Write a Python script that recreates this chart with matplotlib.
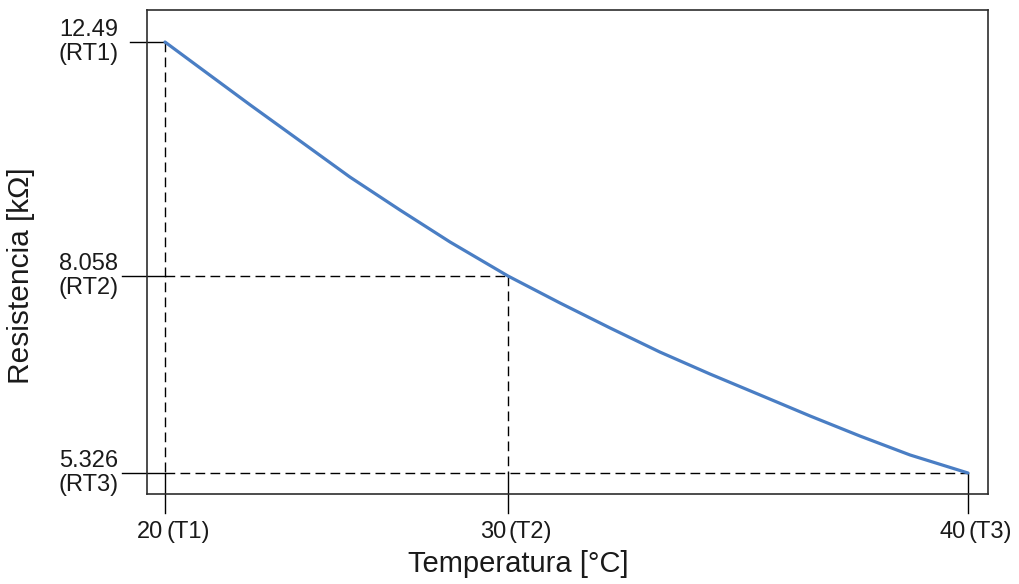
import numpy as np
import matplotlib
matplotlib.use("Agg")
import matplotlib.pyplot as plt

# curve (temperature in degC, resistance in kOhm)
temp = [20.0, 21.02, 22.48, 23.94, 25.39, 26.85, 28.31, 30.0, 31.13, 32.22,
        33.30, 34.39, 35.48, 36.57, 37.65, 38.74, 40.0]
res = [12.49, 12.00, 11.30, 10.615, 9.933, 9.308, 8.702, 8.058, 7.684, 7.337,
       7.004, 6.699, 6.408, 6.116, 5.839, 5.576, 5.326]

t_ticks = [20, 30, 40]
t_names = ["(T1)", "(T2)", "(T3)"]
r_ticks = [5.326, 8.058, 12.49]
r_labels = ["5.326\n(RT3)", "8.058\n(RT2)", "12.49\n(RT1)"]

# the axes of the original are not linear: place the marked values where they sit
t_pos = [0, 343, 803]
r_pos = [0, 197, 431]


def piecewise(keys, pos):
    keys = np.asarray(keys, float)
    pos = np.asarray(pos, float)
    s_lo = (pos[1] - pos[0]) / (keys[1] - keys[0])
    s_hi = (pos[-1] - pos[-2]) / (keys[-1] - keys[-2])

    def fwd(v):
        v = np.asarray(v, float)
        out = np.interp(v, keys, pos)
        out = np.where(v < keys[0], pos[0] + (v - keys[0]) * s_lo, out)
        out = np.where(v > keys[-1], pos[-1] + (v - keys[-1]) * s_hi, out)
        return out

    def inv(p):
        p = np.asarray(p, float)
        out = np.interp(p, pos, keys)
        out = np.where(p < pos[0], keys[0] + (p - pos[0]) / s_lo, out)
        out = np.where(p > pos[-1], keys[-1] + (p - pos[-1]) / s_hi, out)
        return out

    return fwd, inv


fx, ix = piecewise(t_ticks, t_pos)
fy, iy = piecewise(r_ticks, r_pos)

plt.rcParams["font.family"] = ["Liberation Sans", "DejaVu Sans"]
txt = "#1a1a1a"

fig = plt.figure(figsize=(10.2, 5.84), dpi=100)
ax = fig.add_axes([147 / 1020, 90 / 584, 841 / 1020, 484 / 584])
ax.set_xscale("function", functions=(fx, ix))
ax.set_yscale("function", functions=(fy, iy))
ax.set_xlim(float(ix(-18)), float(ix(823)))
ax.set_ylim(float(iy(-21)), float(iy(463)))
ax.set_xticks([])
ax.set_yticks([])
for sp in ax.spines.values():
    sp.set_color("#2e2e2e")
    sp.set_linewidth(1.2)

ax.plot(temp, res, color="#4a7ec4", lw=2.3, solid_capstyle="round", zorder=3)

dash = dict(color="black", lw=1.0, dashes=(7, 3.8), zorder=2)
solid = dict(color="black", lw=1.0, clip_on=False, zorder=2)

# dashed guides from the curve to the outer lines
ax.plot([t_ticks[0], t_ticks[0]], [r_ticks[2], r_ticks[0]], **dash)
ax.plot([t_ticks[1], t_ticks[1]], [r_ticks[1], r_ticks[0]], **dash)
ax.plot([t_ticks[0], t_ticks[1]], [r_ticks[1], r_ticks[1]], **dash)
ax.plot([t_ticks[0], t_ticks[2]], [r_ticks[0], r_ticks[0]], **dash)

# solid tick lines crossing the frame
for t in t_ticks:
    ax.plot([t, t], [r_ticks[0], float(iy(-40))], **solid)
for r, start in zip(r_ticks, [-43, -43, -35]):
    ax.plot([float(ix(start)), t_ticks[0]], [r, r], **solid)

# tick labels
for r, lab in zip(r_ticks, r_labels):
    ax.text(float(ix(-46)), r, lab, ha="right", va="center", multialignment="center",
            fontsize=17, color=txt, linespacing=1.15)
for t, name in zip(t_ticks, t_names):
    ax.text(float(ix(fx(t) - 2)), float(iy(-48)), str(t), ha="right", va="top",
            fontsize=17, color=txt)
    ax.text(float(ix(fx(t) + 1)), float(iy(-48)), name, ha="left", va="top",
            fontsize=17, color=txt)

ax.set_xlabel("Temperatura [°C]", fontsize=21, color=txt)
ax.set_ylabel("Resistencia [kΩ]", fontsize=21.5, color=txt)
ax.xaxis.set_label_coords(0.441, -0.115)
ax.yaxis.set_label_coords(-0.133, 0.452)

fig.savefig("out.png", dpi=100)
